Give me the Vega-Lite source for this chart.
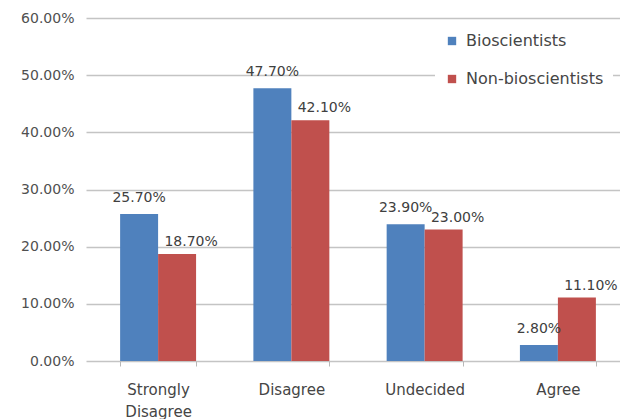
{
  "$schema": "https://vega.github.io/schema/vega-lite/v6.json",
  "width": 544,
  "height": 343,
  "autosize": "none",
  "padding": {"left": 86, "top": 18, "right": 0, "bottom": 58},
  "background": "white",
  "config": {"view": {"stroke": null}, "font": "DejaVu Sans"},
  "data": {
    "values": [
      {"response": "Strongly Disagree", "group": "Bioscientists", "share": 0.257},
      {"response": "Strongly Disagree", "group": "Non-bioscientists", "share": 0.187},
      {"response": "Disagree", "group": "Bioscientists", "share": 0.477},
      {"response": "Disagree", "group": "Non-bioscientists", "share": 0.421},
      {"response": "Undecided", "group": "Bioscientists", "share": 0.239},
      {"response": "Undecided", "group": "Non-bioscientists", "share": 0.23},
      {"response": "Agree", "group": "Bioscientists", "share": 0.028},
      {"response": "Agree", "group": "Non-bioscientists", "share": 0.111}
    ]
  },
  "encoding": {
    "x": {
      "field": "response",
      "type": "nominal",
      "sort": ["Strongly Disagree", "Disagree", "Undecided", "Agree"],
      "scale": {"paddingInner": 0.43, "paddingOuter": 0.256},
      "axis": {
        "title": null,
        "labelAngle": 0,
        "labelFontSize": 15,
        "labelColor": "#454545",
        "labelPadding": 16,
        "labelLineHeight": 22,
        "labelExpr": "datum.value == 'Strongly Disagree' ? ['Strongly', 'Disagree'] : datum.value",
        "domain": false,
        "ticks": true,
        "tickBand": "extent",
        "tickSize": 5,
        "tickColor": "#b8b8b8",
        "grid": false
      }
    },
    "xOffset": {"field": "group", "sort": ["Bioscientists", "Non-bioscientists"]},
    "y": {
      "field": "share",
      "type": "quantitative",
      "scale": {"domain": [0, 0.6]},
      "axis": {
        "title": null,
        "values": [0, 0.1, 0.2, 0.3, 0.4, 0.5, 0.6],
        "format": ".2%",
        "labelFontSize": 14,
        "labelColor": "#505050",
        "labelPadding": 12,
        "domain": false,
        "ticks": false,
        "grid": true,
        "gridColor": "#c4c4c4",
        "gridWidth": 1.5
      }
    }
  },
  "layer": [
    {
      "mark": {"type": "bar"},
      "encoding": {
        "color": {
          "field": "group",
          "type": "nominal",
          "scale": {"domain": ["Bioscientists", "Non-bioscientists"], "range": ["#4F81BD", "#C0504D"]},
          "legend": {
            "title": null,
            "orient": "none",
            "legendX": 349,
            "legendY": 6,
            "symbolType": "square",
            "symbolSize": 70,
            "symbolStrokeWidth": 0,
            "labelFontSize": 16,
            "labelColor": "#454545",
            "labelOffset": 6,
            "fillColor": "white",
            "padding": 9,
            "rowPadding": 22
          }
        }
      }
    },
    {
      "transform": [{"filter": "datum.group == 'Bioscientists'"}],
      "mark": {"type": "text", "baseline": "middle", "dy": -16, "fontSize": 14, "color": "#404040"},
      "encoding": {"text": {"field": "share", "type": "quantitative", "format": ".2%"}}
    },
    {
      "transform": [{"filter": "datum.group == 'Non-bioscientists'"}],
      "mark": {"type": "text", "baseline": "middle", "dy": -12, "dx": 14, "fontSize": 14, "color": "#404040"},
      "encoding": {"text": {"field": "share", "type": "quantitative", "format": ".2%"}}
    }
  ]
}
